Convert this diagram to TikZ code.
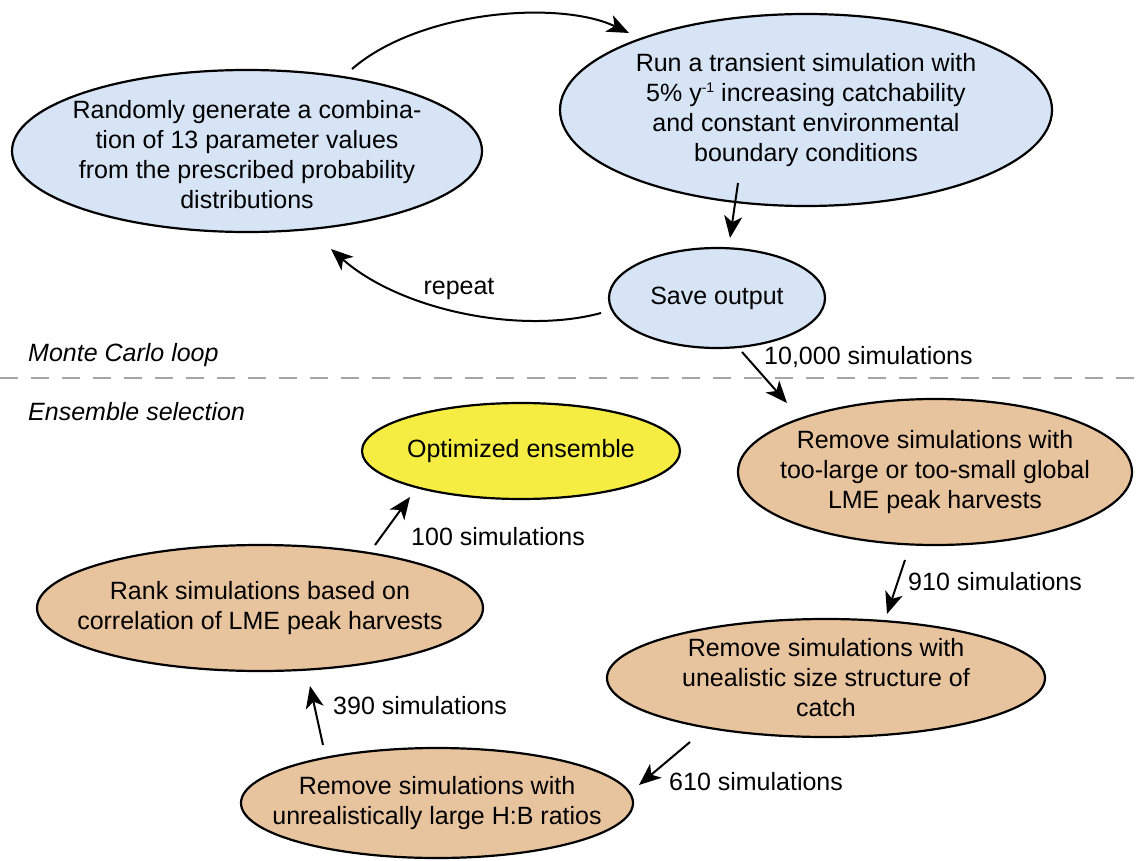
\documentclass[tikz,border=0pt]{standalone}
\usepackage{fontspec}
\setmainfont{Liberation Sans}
\usetikzlibrary{shapes.geometric,arrows.meta}
\definecolor{blueF}{RGB}{214,228,245}
\definecolor{tanF}{RGB}{232,196,158}
\definecolor{yelF}{RGB}{245,237,66}
\definecolor{dashG}{RGB}{165,165,165}
\newcommand{\supm}[1]{\raisebox{9pt}{\fontsize{14}{14}\selectfont #1}}
\begin{document}
\begin{tikzpicture}[x=1pt,y=-1pt,
  font=\fontsize{25}{30}\selectfont,
  ell/.style={ellipse,draw=black,line width=2.2pt,inner sep=0pt,outer sep=0pt},
  arr/.style={-{Stealth[length=22pt,width=18pt,inset=6pt]},line width=2pt},
  lbl/.style={anchor=west,inner sep=0pt},
  sec/.style={anchor=west,inner sep=0pt,font=\fontsize{25}{30}\selectfont\itshape}]
\useasboundingbox (0,0) rectangle (1137,861);
\fill[white] (0,0) rectangle (1137,861);

% Monte Carlo loop
\node[ell,fill=blueF,minimum width=470pt,minimum height=162pt,
  label={[align=center,yshift=-4pt]center:Randomly generate a combina-\\tion of 13 parameter values\\from the prescribed probability\\distributions}] (rand) at (247,151) {};
\node[ell,fill=blueF,minimum width=492pt,minimum height=192pt,
  label={[align=center]center:Run a transient simulation with\\5\% y\supm{-1} increasing catchability\\and constant environmental\\boundary conditions}] (run) at (806,110) {};
\node[ell,fill=blueF,minimum width=216pt,minimum height=100pt,
  label={[align=center]center:Save output}] (save) at (717,298) {};

% Ensemble selection
\node[ell,fill=yelF,minimum width=318pt,minimum height=96pt,
  label={[align=center]center:Optimized ensemble}] (opt) at (521,451) {};
\node[ell,fill=tanF,minimum width=394pt,minimum height=146pt,
  label={[align=center]center:Remove simulations with\\too-large or too-small global\\LME peak harvests}] (rem1) at (935,472) {};
\node[ell,fill=tanF,minimum width=438pt,minimum height=118pt,
  label={[align=center]center:Remove simulations with\\unealistic size structure of\\catch}] (rem2) at (826,678) {};
\node[ell,fill=tanF,minimum width=392pt,minimum height=110pt,
  label={[align=center]center:Remove simulations with\\unrealistically large H:B ratios}] (hb) at (437,803) {};
\node[ell,fill=tanF,minimum width=446pt,minimum height=126pt,
  label={[align=center]center:Rank simulations based on\\correlation of LME peak harvests}] (rank) at (260,608) {};

% section labels and separator
\node[sec] (mcl) at (28,355) {Monte Carlo loop};
\node[sec] (ens) at (28,412) {Ensemble selection};
\draw[dashG,line width=2.5pt,dash pattern=on 18pt off 13pt] (0,378) -- (1137,378);

% connectors
\draw[arr] ([shift={(105,-82)}]rand.center) .. controls (420,10) and (560,0) .. ([shift={(-177,-77)}]run.center);
\draw[arr] ([shift={(-68,73)}]run.center) -- ([shift={(13,-60)}]save.center);
\draw[arr] ([shift={(-116,15)}]save.center) .. controls (520,335) and (400,310) .. ([shift={(84,98)}]rand.center);
\node[inner sep=0pt] (rep) at (459,289) {repeat};

\draw[arr] ([shift={(25,54)}]save.center) -- ([shift={(-148,-69)}]rem1.center);
\node[lbl] (l10000) at (764,357) {10,000 simulations};
\draw[arr] ([shift={(-30,88)}]rem1.center) -- ([shift={(61,-64)}]rem2.center);
\node[lbl] (l910) at (908,582) {910 simulations};
\draw[arr] ([shift={(-136,64)}]rem2.center) -- ([shift={(202,-18)}]hb.center);
\node[lbl] (l610) at (669,782) {610 simulations};
\draw[arr] ([shift={(-114,-58)}]hb.center) -- ([shift={(50,78)}]rank.center);
\node[lbl] (l390) at (333,706) {390 simulations};
\draw[arr] ([shift={(115,-63)}]rank.center) -- ([shift={(-111,46)}]opt.center);
\node[lbl] (l100) at (411,537) {100 simulations};
\end{tikzpicture}
\end{document}
